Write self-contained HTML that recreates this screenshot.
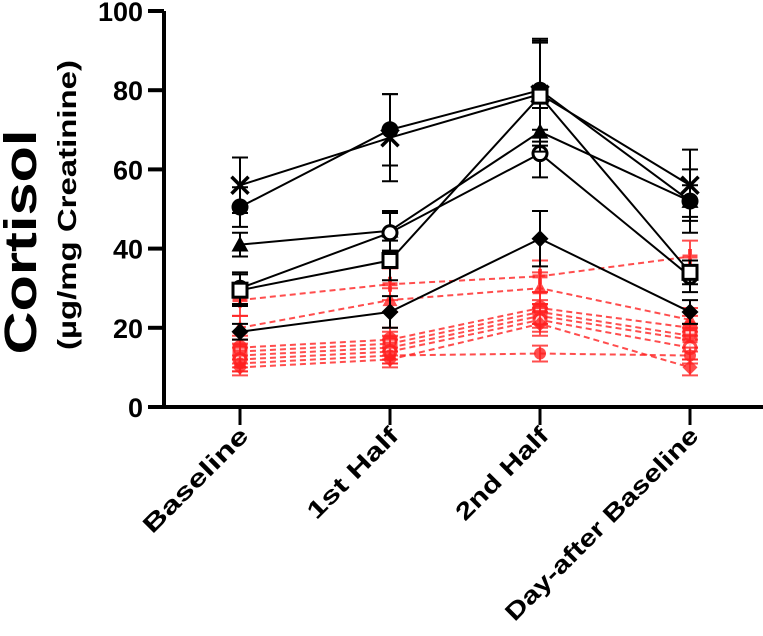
<!DOCTYPE html>
<html><head><meta charset="utf-8"><style>
html,body{margin:0;padding:0;background:#fff;width:763px;height:636px;overflow:hidden}
text{font-family:"Liberation Sans",Arial,sans-serif;font-weight:bold}
</style></head><body>
<svg id="chart" width="763" height="636" viewBox="0 0 763 636" xmlns="http://www.w3.org/2000/svg">
<text transform="translate(36,242) rotate(-90)" text-anchor="middle" font-size="45" textLength="225" lengthAdjust="spacingAndGlyphs">Cortisol</text>
<text transform="translate(76,205) rotate(-90)" text-anchor="middle" font-size="26" textLength="290" lengthAdjust="spacingAndGlyphs">(µg/mg  Creatinine)</text>
<g id="axes"></g><g id="marks"></g>
</svg>
<script>
const categories=["Baseline","1st Half","2nd Half","Day-after Baseline"];
const yTicks=[0,20,40,60,80,100];
const blackShapes=["x","circle","tri","ocircle","square","diamond"];
const blackValues=[[56,68,79,56],[50.5,70,80,52],[41,44.5,69.5,52],[30,44,64,33],[29.5,37,78.5,34],[19,24,42.5,24]];
const blackErrors=[[7,11,13,9],[5,9,13,8],[3,5,6,4],[4,5,6,4],[4,5,14,3],[2,4,7,3]];
const redShapes=["plus","tri","circle","square","tridown","ocircle","diamond","star"];
const redValues=[[27,31,33,38],[20,27,30,22],[15,17,25,20],[14,16,24,18],[13,15,23,17],[12,14,22,15],[10,12,21,10],[11,13,13.5,13]];
const redErrors=[[4,4,4,4],[3,3,4,3],[3,3,4,3],[3,3,3,3],[3,3,3,3],[3,3,3,3],[2,2,3,2],[2,2,2,2]];
const NS="http://www.w3.org/2000/svg";
const x0=164,y0=407,ppu=3.96;
const xScale=i=>240+i*150;
const yScale=v=>y0-v*ppu;
const labelLens=[138,118,120,262];
function mk(tag,attrs,parent){const e=document.createElementNS(NS,tag);for(const k in attrs)e.setAttribute(k,attrs[k]);parent.appendChild(e);return e;}
const axes=document.getElementById('axes'),marks=document.getElementById('marks');
let yl=mk('line',{x1:x0,y1:yScale(100),x2:x0,y2:y0+2,stroke:'#000','stroke-width':4},axes);


let xl=mk('line',{x1:x0-15,y1:y0,x2:763,y2:y0,stroke:'#000','stroke-width':4},axes);


yTicks.forEach(t=>{
 const y=yScale(t);
 const tk=mk('line',{x1:x0-16,y1:y,x2:x0,y2:y,stroke:'#000','stroke-width':4},axes);
 
 
 const tx=mk('text',{x:x0-21,y:y+10,'text-anchor':'end','font-size':27},axes);
 tx.textContent=t;
 
 
});
categories.forEach((c,i)=>{
 const x=xScale(i);
 const tk=mk('line',{x1:x,y1:y0,x2:x,y2:y0+18,stroke:'#000','stroke-width':3},axes);
 
 
 const tx=mk('text',{transform:`translate(${x+10},${y0+30}) rotate(-45)`,'text-anchor':'end','font-size':24,textLength:labelLens[i],lengthAdjust:'spacingAndGlyphs'},axes);
 tx.textContent=c;
 
 
});
function marker(shape,x,y,col,g,s){
 const r=s;let e;
 if(shape==='circle')e=mk('circle',{cx:x,cy:y,r:r,fill:col},g);
 else if(shape==='ocircle')e=mk('circle',{cx:x,cy:y,r:r-1.5,fill:'#fff',stroke:col,'stroke-width':3},g);
 else if(shape==='square')e=mk('rect',{x:x-r+1.5,y:y-r+1.5,width:2*r-3,height:2*r-3,fill:'#fff',stroke:col,'stroke-width':3},g);
 else if(shape==='tri')e=mk('polygon',{points:`${x},${y-r} ${x-r},${y+r*0.8} ${x+r},${y+r*0.8}`,fill:col},g);
 else if(shape==='tridown')e=mk('polygon',{points:`${x},${y+r} ${x-r},${y-r*0.8} ${x+r},${y-r*0.8}`,fill:col},g);
 else if(shape==='diamond')e=mk('polygon',{points:`${x},${y-r} ${x+r},${y} ${x},${y+r} ${x-r},${y}`,fill:col},g);
 else if(shape==='x')e=mk('path',{d:`M${x-r},${y-r}L${x+r},${y+r}M${x-r},${y+r}L${x+r},${y-r}`,stroke:col,'stroke-width':3.5},g);
 else if(shape==='plus')e=mk('path',{d:`M${x-r},${y}L${x+r},${y}M${x},${y-r}L${x},${y+r}`,stroke:col,'stroke-width':4},g);
 else e=mk('circle',{cx:x,cy:y,r:r*0.8,fill:col},g);
 return e;
}
function series(vals,errs,shape,col,dashed,idx,kind){
 const g=mk('g',{},marks);
 
 
 const pts=vals.map((v,i)=>`${xScale(i)},${yScale(v)}`).join(' ');
 const ln=mk('polyline',{points:pts,fill:'none',stroke:col,'stroke-width':2,'stroke-dasharray':dashed?'6,4':'none',opacity:dashed?0.8:1},g);
 
 
 vals.forEach((v,i)=>{
  const x=xScale(i),e=errs[i];
  const eb=mk('path',{d:`M${x},${yScale(v+e)}L${x},${yScale(v-e)}M${x-8},${yScale(v+e)}L${x+8},${yScale(v+e)}M${x-8},${yScale(v-e)}L${x+8},${yScale(v-e)}`,stroke:col,'stroke-width':2,fill:'none',opacity:dashed?0.8:1},g);
  
  
  const m=marker(shape,x,yScale(v),col,g,dashed?7.5:8.5);
  
  
  if(dashed)m.setAttribute('opacity','0.8');
 });
}
redValues.forEach((v,i)=>series(v,redErrors[i],redShapes[i],'#ff2020',true,i,'red'));
blackValues.forEach((v,i)=>series(v,blackErrors[i],blackShapes[i],'#000',false,i,'black'));
</script>
</body></html>
